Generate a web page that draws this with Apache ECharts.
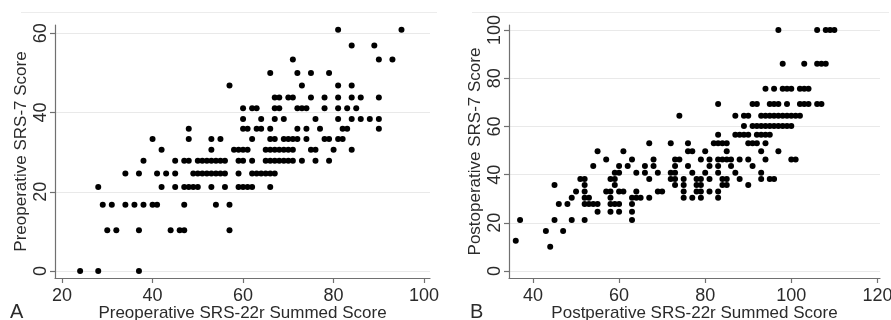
<!DOCTYPE html>
<html>
<head>
<meta charset="utf-8">
<script src="https://cdn.jsdelivr.net/npm/echarts@6/dist/echarts.min.js"></script>
<style>
  html, body { margin: 0; padding: 0; background: #fff; }
  #chart { width: 891px; height: 320px; }
</style>
</head>
<body>
<div id="chart"></div>
<script>
// Panel A (preoperative): SRS-7 score levels and the SRS-22r summed scores found on each level
const preLevels = [0, 10.3, 16.7, 21.2, 24.6, 27.8, 30.6, 33.3, 35.9, 38.4, 41.1, 43.8, 46.8, 50, 53.4, 56.9, 60.9]
const preX = [
  [24, 28, 37],
  [30, 32, 37, 44, 46, 47, 57],
  [29, 31, 34, 36, 38, 40, 41, 47, 54, 57],
  [28, 42, 45, 47, 48, 49, 50, 53, 56, 59, 60, 61, 62, 66],
  [34, 37, 41, 43, 45, 49, 50, 51, 52, 53, 54, 55, 56, 59, 62, 63, 64, 65, 66, 67],
  [38, 45, 47, 48, 50, 51, 52, 53, 54, 55, 56, 59, 60, 62, 65, 66, 67, 68, 69, 70, 71, 73, 76, 79],
  [42, 53, 58, 59, 60, 61, 65, 66, 67, 68, 69, 70, 71, 75, 76, 80, 84],
  [40, 48, 53, 55, 62, 66, 67, 69, 70, 71, 72, 74, 78, 79, 81, 82],
  [48, 60, 61, 63, 64, 66, 72, 74, 77, 82, 83, 90],
  [60, 64, 67, 69, 76, 81, 84, 86, 88, 90],
  [60, 62, 63, 67, 68, 72, 73, 74, 78, 81, 83, 85],
  [67, 68, 70, 71, 75, 78, 81, 84, 86, 90],
  [57, 73, 81, 84],
  [66, 72, 75, 79],
  [71, 90, 93],
  [84, 89],
  [81, 95],
]

// Panel B (postoperative)
const postLevels = [10.1, 12.6, 16.6, 21.2, 24.6, 27.8, 30.4, 33, 35.7, 38.2, 40.8, 43.6, 46.3, 49.7, 53, 56.5, 60.2, 64.4, 69.3, 75.6, 86, 100]
const postX = [
  [44],
  [36],
  [43, 47],
  [37, 45, 49, 52, 63],
  [55, 58, 60, 63],
  [46, 48, 52, 53, 54, 55, 58, 59, 60, 63],
  [49, 52, 53, 58, 63, 64, 65, 67, 75, 77, 79, 83],
  [50, 52, 57, 58, 60, 61, 64, 69, 70, 75, 78, 79, 81, 83],
  [45, 52, 59, 73, 75, 78, 79, 84, 85, 90],
  [51, 52, 58, 59, 67, 72, 73, 75, 78, 79, 81, 84, 85, 88, 93, 95, 96],
  [59, 60, 64, 66, 69, 72, 73, 77, 80, 83, 87, 93],
  [54, 60, 62, 66, 68, 73, 76, 81, 83, 86, 91],
  [57, 63, 68, 73, 74, 79, 81, 83, 84, 85, 86, 88, 90, 94, 100, 101],
  [55, 61, 76, 77, 80, 85, 93, 97],
  [67, 72, 76, 82, 83, 84, 85, 90, 91, 92, 94],
  [83, 87, 88, 89, 90, 92, 93, 94, 95],
  [89, 91, 92, 93, 94, 95, 96, 97, 98, 99, 100],
  [74, 87, 89, 90, 93, 94, 95, 96, 97, 98, 99, 100, 101, 102],
  [83, 91, 92, 95, 96, 97, 99, 102, 103, 104, 106, 107],
  [94, 96, 98, 99, 100, 102, 103, 104],
  [98, 103, 106, 107, 108],
  [97, 106, 108, 109, 110],
]

const preTicksX = [20, 40, 60, 80, 100]
const preTicksY = [0, 20, 40, 60]
const postTicksX = [40, 60, 80, 100, 120]
const postTicksY = [0, 20, 40, 60, 80, 100]

const INK = '#2b2b2b'
const AXIS = '#707070'
const GRID = '#e9e9e9'
const FONT = '"Liberation Sans", Arial, sans-serif'

function toPoints(levels, xs) {
  const pts = []
  levels.forEach((y, i) => xs[i].forEach((x) => pts.push([x, y])))
  return pts
}

function axis(o) {
  return {
    type: 'value',
    gridIndex: o.grid,
    min: o.min,
    max: o.max,
    name: o.name,
    nameLocation: 'middle',
    nameGap: o.nameGap,
    nameMoveOverlap: false,
    nameTextStyle: { color: INK, fontSize: 17, fontFamily: FONT },
    axisLine: { show: true, onZero: false, lineStyle: { color: AXIS, width: 1.2 } },
    axisTick: { show: true, length: 5, customValues: o.ticks, lineStyle: { color: AXIS, width: 1.2 } },
    axisLabel: {
      customValues: o.ticks,
      color: INK,
      fontSize: 18,
      fontFamily: FONT,
      margin: o.margin,
      rotate: o.rotate || 0,
    },
    splitLine: { show: !!o.split, lineStyle: { color: GRID, width: 1 } },
  }
}

const chart = echarts.init(document.getElementById('chart'), null, { renderer: 'canvas' })

chart.setOption({
  animation: false,
  backgroundColor: '#fff',
  grid: [
    { left: 55, top: 25, width: 375, height: 253, containLabel: false, outerBoundsMode: 'none' },
    { left: 509, top: 25, width: 371, height: 253, containLabel: false, outerBoundsMode: 'none' },
  ],
  xAxis: [
    axis({ grid: 0, min: 18.45, max: 101.3, ticks: preTicksX, name: 'Preoperative SRS-22r Summed Score', nameGap: 27, margin: 9 }),
    axis({ grid: 1, min: 34.43, max: 120.6, ticks: postTicksX, name: 'Postperative SRS-22r Summed Score', nameGap: 27, margin: 9 }),
  ],
  yAxis: [
    axis({ grid: 0, min: -1.77, max: 62.1, ticks: preTicksY, name: 'Preoperative SRS-7 Score', nameGap: 25, margin: 5, rotate: 90, split: true }),
    axis({ grid: 1, min: -2.9, max: 102.1, ticks: postTicksY, name: 'Postoperative SRS-7 Score', nameGap: 25, margin: 5, rotate: 90, split: true }),
  ],
  series: [
    {
      type: 'scatter', xAxisIndex: 0, yAxisIndex: 0, symbolSize: 6,
      itemStyle: { color: '#000', opacity: 1 }, data: toPoints(preLevels, preX),
    },
    {
      type: 'scatter', xAxisIndex: 1, yAxisIndex: 1, symbolSize: 6,
      itemStyle: { color: '#000', opacity: 1 }, data: toPoints(postLevels, postX),
    },
  ],
  graphic: [
    { type: 'line', shape: { x1: 21, y1: 12.5, x2: 437, y2: 12.5 }, style: { stroke: '#ececec', lineWidth: 1 } },
    { type: 'line', shape: { x1: 472, y1: 12.5, x2: 889, y2: 12.5 }, style: { stroke: '#ececec', lineWidth: 1 } },
    { type: 'text', left: 10, top: 302, style: { text: 'A', fill: INK, font: '20px ' + FONT } },
    { type: 'text', left: 470, top: 302, style: { text: 'B', fill: INK, font: '20px ' + FONT } },
  ],
})
</script>
</body>
</html>
